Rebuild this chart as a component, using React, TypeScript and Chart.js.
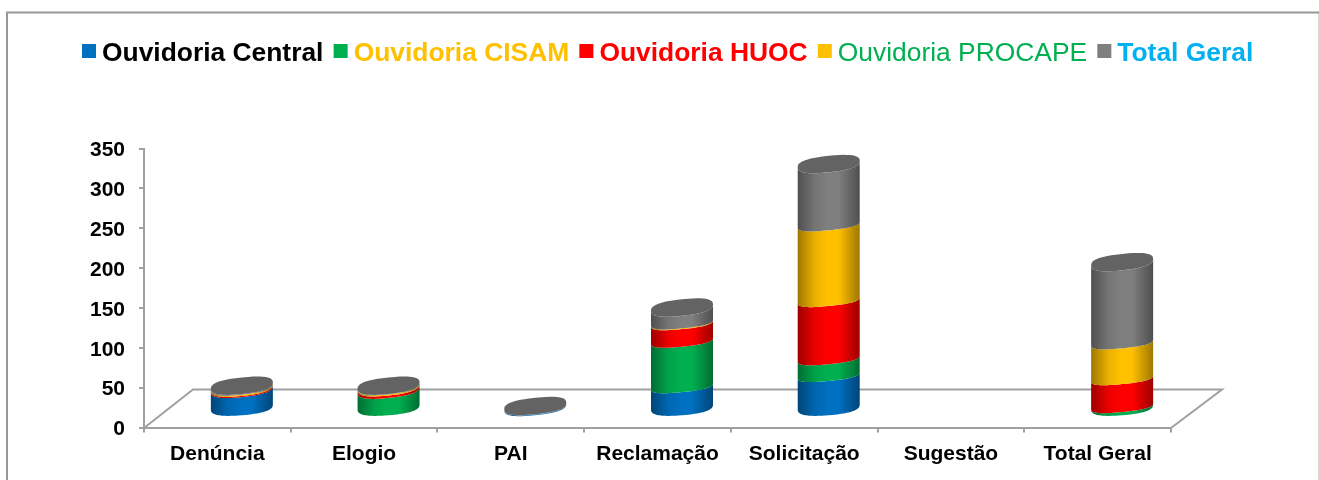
import React, { useEffect, useRef } from "react";
import { Chart, registerables } from "chart.js";

Chart.register(...registerables);

const categories = ["Denúncia", "Elogio", "PAI", "Reclamação", "Solicitação", "Sugestão", "Total Geral"];
const ouvidoriaCentral = [24, 0, 2.2, 30, 44, 0, 0];
const ouvidoriaCisam = [0, 23, 0, 57, 21, 0, 5];
const ouvidoriaHuoc = [1.5, 3, 0, 22, 73, 0, 35];
const ouvidoriaProcape = [1.5, 1.5, 0, 1, 95, 0, 45];
const totalGeral = [1, 0.5, 0.3, 16, 73, 0, 98];

const seriesNames = ["Ouvidoria Central", "Ouvidoria CISAM", "Ouvidoria HUOC", "Ouvidoria PROCAPE", "Total Geral"];
const seriesValues = [ouvidoriaCentral, ouvidoriaCisam, ouvidoriaHuoc, ouvidoriaProcape, totalGeral];
const seriesColors = ["#0070C0", "#00B050", "#FF0000", "#FFC000", "#7F7F7F"];
const legendTextColors = ["#000000", "#FFC000", "#FF0000", "#00B050", "#00B0F0"];
const legendWeights = ["bold", "bold", "bold", "normal", "bold"];

const FONT = '"Liberation Sans", Arial, sans-serif';
const AXIS = "#a0a0a0";
const DEPTH_X = 49;
const DEPTH_Y = 38;
const BAR_DX = 24.5;
const BAR_DY = -19.5;
const BASE_CURVE = { b: 8.2, s: 2.5, shift: 0 };
const BAND_CURVE = { b: 5.6, s: 3, shift: 2.4 };
const DISC_CURVE = { b: 8.2, s: 3.2, shift: 0 };
const NEAR_TOP = 8;
const ROUND = 0.78;

function shade(hex: string, f: number) {
  const n = parseInt(hex.slice(1), 16);
  const r = Math.round(((n >> 16) & 255) * f);
  const g = Math.round(((n >> 8) & 255) * f);
  const b = Math.round((n & 255) * f);
  return `rgb(${r},${g},${b})`;
}

function soft(v: number) {
  return Math.sign(v) * Math.pow(Math.abs(v), ROUND);
}

function arcPts(
  ctx: CanvasRenderingContext2D,
  cx: number,
  cy: number,
  a: number,
  curve: { b: number; s: number; shift: number },
  from: number,
  to: number,
) {
  const steps = 48;
  for (let k = 0; k <= steps; k++) {
    const t = from + ((to - from) * k) / steps;
    const c = soft(Math.cos(t));
    const n = soft(Math.sin(t));
    ctx.lineTo(cx + a * c, cy + curve.shift + curve.b * n - curve.s * c);
  }
}

const scene = {
  id: "scene",
  beforeDraw(chart: any) {
    const ctx = chart.ctx;
    ctx.save();
    ctx.fillStyle = "#ffffff";
    ctx.fillRect(0, 0, chart.width, chart.height);
    ctx.strokeStyle = "#dcdcdc";
    ctx.lineWidth = 1;
    ctx.beginPath();
    ctx.moveTo(1318.5, 12);
    ctx.lineTo(1318.5, 480);
    ctx.stroke();
    ctx.strokeStyle = "#989898";
    ctx.lineWidth = 2;
    ctx.beginPath();
    ctx.moveTo(7, 480);
    ctx.lineTo(7, 12.5);
    ctx.lineTo(1319, 12.5);
    ctx.stroke();
    // legend
    let x = 82;
    seriesNames.forEach((name, i) => {
      ctx.fillStyle = seriesColors[i];
      ctx.fillRect(x, 44, 14, 14);
      x += 20;
      ctx.font = `${legendWeights[i]} 26.4px ${FONT}`;
      ctx.fillStyle = legendTextColors[i];
      ctx.textAlign = "left";
      ctx.textBaseline = "alphabetic";
      ctx.fillText(name, x, 61);
      x += ctx.measureText(name).width + 10.2;
    });
    ctx.restore();
    // y tick labels sit 2px lower than the tick marks
    chart.scales.y.getLabelItems().forEach((it: any) => {
      it.options.translation[1] += 2;
    });
  },
  beforeDatasetsDraw(chart: any) {
    const ctx = chart.ctx;
    const { left, right, bottom } = chart.chartArea;
    ctx.save();
    // floor of the 3D box
    ctx.strokeStyle = AXIS;
    ctx.lineWidth = 2;
    ctx.beginPath();
    ctx.moveTo(left, bottom + 0.5);
    ctx.lineTo(left + DEPTH_X, bottom - DEPTH_Y);
    ctx.lineTo(right + DEPTH_X + 2, bottom - DEPTH_Y);
    ctx.lineTo(right, bottom + 0.5);
    ctx.stroke();

    categories.forEach((_, c) => {
      const present = seriesValues.map((v, d) => (v[c] ? d : -1)).filter((d) => d >= 0);
      if (!present.length) return;
      const topEl = chart.getDatasetMeta(present[present.length - 1]).data[c];
      const stackTop = topEl.y + BAR_DY;
      const curveAt = (y: number, isBase: boolean) => {
        if (y - stackTop < NEAR_TOP) return DISC_CURVE;
        return isBase ? BASE_CURVE : BAND_CURVE;
      };
      present.forEach((d, idx) => {
        const el = chart.getDatasetMeta(d).data[c];
        const a = el.width / 2;
        const cx = el.x + BAR_DX;
        const yt = el.y + BAR_DY;
        const yb = el.base + BAR_DY;
        const col = seriesColors[d];
        const g = ctx.createLinearGradient(cx - a, 0, cx + a, 0);
        g.addColorStop(0, shade(col, 0.62));
        g.addColorStop(0.28, shade(col, 0.92));
        g.addColorStop(0.48, col);
        g.addColorStop(0.66, col);
        g.addColorStop(1, shade(col, 0.62));
        ctx.fillStyle = g;
        ctx.beginPath();
        arcPts(ctx, cx, yb, a, curveAt(yb, idx === 0), Math.PI, 0);
        arcPts(ctx, cx, yt, a, curveAt(yt, false), 0, Math.PI);
        ctx.closePath();
        ctx.fill();
      });
      ctx.fillStyle = shade(seriesColors[present[present.length - 1]], 0.78);
      ctx.beginPath();
      arcPts(ctx, topEl.x + BAR_DX, stackTop, topEl.width / 2, DISC_CURVE, 0, Math.PI * 2);
      ctx.closePath();
      ctx.fill();
    });
    ctx.restore();
    return false;
  },
};

export default function App() {
  const ref = useRef<HTMLCanvasElement>(null);
  useEffect(() => {
    const chart = new Chart(ref.current as HTMLCanvasElement, {
      type: "bar",
      data: {
        labels: categories,
        datasets: seriesNames.map((label, i) => ({
          label,
          data: seriesValues[i],
          backgroundColor: seriesColors[i],
          stack: "s",
          categoryPercentage: 1,
          barPercentage: 0.4226,
        })),
      },
      options: {
        animation: false,
        responsive: false,
        layout: { autoPadding: false, padding: { left: 0, right: 148, top: 148.5, bottom: 0 } },
        plugins: { legend: { display: false }, tooltip: { enabled: false }, title: { display: false } },
        scales: {
          x: {
            stacked: true,
            afterFit: (s: any) => { s.height = 52.5; },
            border: { display: true, color: AXIS, width: 2 },
            grid: { drawOnChartArea: false, drawTicks: true, tickLength: 5, color: AXIS, lineWidth: 2 },
            ticks: { font: { family: FONT, size: 21, weight: "bold" }, color: "#000000", padding: 9, maxRotation: 0, autoSkip: false },
          },
          y: {
            stacked: true,
            min: 0,
            max: 350,
            afterFit: (s: any) => { s.width = 144; },
            border: { display: true, color: AXIS, width: 2 },
            grid: { drawOnChartArea: false, drawTicks: true, tickLength: 5, color: AXIS, lineWidth: 2 },
            ticks: { stepSize: 50, font: { family: FONT, size: 21, weight: "bold" }, color: "#000000", padding: 14 },
          },
        },
      },
      plugins: [scene],
    } as any);
    return () => chart.destroy();
  }, []);
  return (
    <div style={{ position: "absolute", left: 0, top: 0, width: 1319, height: 480, overflow: "hidden", background: "#fff" }}>
      <canvas ref={ref} width={1319} height={480} style={{ display: "block" }} />
    </div>
  );
}
